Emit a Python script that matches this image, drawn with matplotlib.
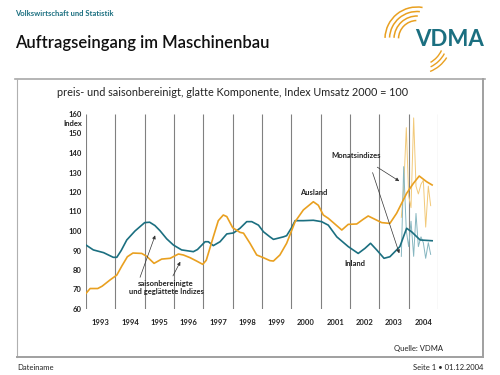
import numpy as np
import matplotlib
matplotlib.use("Agg")
import matplotlib.pyplot as plt
from matplotlib.patches import Arc

plt.rcParams['font.family'] = ['Lato', 'DejaVu Sans']

# smoothed series (glatte Komponente)
inland_x = [1993.0, 1993.25, 1993.6, 1993.93, 1994.05, 1994.2, 1994.39, 1994.67, 1995.0, 1995.17,
            1995.35, 1995.52, 1995.75, 1995.98, 1996.26, 1996.66, 1996.8, 1997.06, 1997.17, 1997.34,
            1997.57, 1997.8, 1998.03, 1998.25, 1998.48, 1998.65, 1998.88, 1999.05, 1999.27, 1999.39,
            1999.73, 1999.84, 2000.0, 2000.13, 2000.41, 2000.75, 2001.03, 2001.26, 2001.55, 2001.94,
            2002.28, 2002.51, 2002.7, 2002.91, 2003.16, 2003.36, 2003.7, 2003.93, 2004.1, 2004.39, 2004.8]
inland_y = [92.8, 90.3, 88.9, 86.5, 86.5, 90.0, 95.4, 100.0, 104.3, 104.5,
            102.8, 100.2, 96.0, 92.8, 90.3, 89.4, 90.5, 94.5, 94.5, 92.5,
            94.5, 98.5, 99.0, 101.4, 104.8, 104.8, 103.0, 99.6, 97.0, 95.7,
            97.0, 97.6, 101.5, 105.3, 105.3, 105.5, 104.8, 103.0, 97.0, 92.0,
            88.5, 91.1, 93.7, 90.3, 86.0, 86.8, 92.0, 101.4, 99.6, 95.4, 95.0]

ausland_x = [1993.0, 1993.14, 1993.4, 1993.55, 1993.82, 1994.05, 1994.22, 1994.41, 1994.6, 1994.9,
             1995.07, 1995.32, 1995.58, 1995.87, 1996.15, 1996.32, 1996.55, 1996.77, 1996.98, 1997.1,
             1997.34, 1997.51, 1997.68, 1997.8, 1998.0, 1998.25, 1998.37, 1998.59, 1998.82, 1999.05,
             1999.27, 1999.39, 1999.61, 1999.84, 2000.13, 2000.41, 2000.75, 2000.92, 2001.09, 2001.26,
             2001.43, 2001.72, 2001.94, 2002.23, 2002.45, 2002.62, 2002.85, 2003.08, 2003.36, 2003.59,
             2003.93, 2004.16, 2004.36, 2004.61, 2004.8]
ausland_y = [68.0, 70.5, 70.5, 71.7, 74.9, 77.4, 82.0, 86.8, 88.7, 88.5,
             87.0, 83.4, 85.6, 86.0, 88.2, 87.7, 86.3, 84.6, 82.9, 85.0,
             97.0, 105.3, 108.2, 107.4, 101.7, 99.3, 98.9, 93.7, 87.7, 86.3,
             84.8, 84.6, 87.7, 93.7, 104.8, 110.8, 115.0, 113.2, 108.2, 106.5,
             104.3, 100.5, 103.4, 103.6, 106.0, 107.7, 106.0, 104.3, 103.9, 109.1,
             119.3, 124.4, 128.2, 125.3, 123.6]

# monthly indices Oct 2003 - Oct 2004
monat_x = [2003.75, 2003.83, 2003.92, 2004.0, 2004.08, 2004.17, 2004.25,
           2004.33, 2004.42, 2004.5, 2004.58, 2004.67, 2004.75]
monat_ausland = [107, 122, 153, 118, 112, 158, 123, 119, 124, 126, 102, 123, 113]
monat_inland = [87, 133, 100, 92, 105, 87, 109, 92, 97, 94, 86, 94, 88]

jahre = list(range(1993, 2005))
yticks = [60, 70, 80, 90, 100, 110, 120, 130, 140, 150, 160]

teal = '#1b6f80'
orange = '#e9a020'
teal_l = '#86b6c0'
orange_l = '#f2c979'
txt = '#222222'

fig = plt.figure(figsize=(5, 3.75), dpi=100)

# decorations in pixel coordinates (y up)
deco = fig.add_axes([0, 0, 1, 1])
deco.set_xlim(0, 500)
deco.set_ylim(0, 375)
deco.axis('off')
deco.plot([15, 485], [375 - 79, 375 - 79], color='#a8a8a8', lw=1.2)
deco.plot([17, 17], [375 - 79, 375 - 357], color='#b0b0b0', lw=0.8)
deco.plot([17, 483], [375 - 357, 375 - 357], color='#a0a0a0', lw=1.4)
deco.plot([483, 483], [375 - 79, 375 - 357], color='#a0a0a0', lw=1.4)

# logo arcs
for r, t1, t2 in zip([32, 27.5, 23, 18.5], [80, 84, 88, 92], [178, 177, 177, 178]):
    deco.add_patch(Arc((417, 336), 2 * r, 2 * r, theta1=t1, theta2=t2, color=orange, lw=1.1))
for r, t1, t2 in zip([27, 31, 35], [-60, -64, -68], [-25, -28, -32]):
    deco.add_patch(Arc((417, 336), 2 * r, 2 * r, theta1=t1, theta2=t2, color=orange, lw=1.0))

fig.text(450 / 500, 1 - 40 / 375, 'VDMA', color=teal, fontsize=16, fontweight='bold',
         ha='center', va='center')
fig.text(15 / 500, 1 - 13 / 375, 'Volkswirtschaft und Statistik', color=teal, fontsize=5.5,
         fontweight='bold', ha='left', va='center')
fig.text(15 / 500, 1 - 43 / 375, 'Auftragseingang im Maschinenbau', color='#111111', fontsize=12,
         fontweight='semibold', ha='left', va='center')
fig.text(57 / 500, 1 - 93 / 375, 'preis- und saisonbereinigt, glatte Komponente, Index Umsatz 2000 = 100',
         color=txt, fontsize=7.8, ha='left', va='center')
fig.text(443 / 500, 1 - 348 / 375, 'Quelle: VDMA', color=txt, fontsize=5.5, ha='right', va='center')
fig.text(17 / 500, 1 - 367 / 375, 'Dateiname', color=txt, fontsize=5.5, ha='left', va='center')
fig.text(483 / 500, 1 - 367 / 375, 'Seite 1 \u2022 01.12.2004', color=txt, fontsize=5.5,
         ha='right', va='center')

# chart
ax = fig.add_axes([86 / 500, 1 - 309 / 375, 352 / 500, 195 / 375])
ax.set_xlim(1993, 2005)
ax.set_ylim(60, 160)
for s in ax.spines.values():
    s.set_visible(False)
ax.patch.set_alpha(0)

ax.vlines(jahre + [2005], 60, 160, color='#808080', lw=0.8, zorder=1)

ax.plot(monat_x, monat_ausland, color=orange_l, lw=0.7, zorder=2)
ax.plot(monat_x, monat_inland, color=teal_l, lw=0.7, zorder=2)
ax.plot(inland_x, inland_y, color=teal, lw=1.2, zorder=3)
ax.plot(ausland_x, ausland_y, color=orange, lw=1.2, zorder=3)

ax.set_yticks(yticks)
ax.set_yticklabels([str(v) for v in yticks], fontsize=5.5, fontweight='bold', color=txt)
ax.set_xticks([j + 0.5 for j in jahre])
ax.set_xticklabels([str(j) for j in jahre], fontsize=5.5, fontweight='bold', color=txt)
ax.tick_params(axis='both', length=0)
ax.tick_params(axis='y', pad=3)
ax.tick_params(axis='x', pad=7)
ax.text(-0.01, 155, 'Index', transform=ax.get_yaxis_transform(), fontsize=5.5, fontweight='bold',
        color=txt, ha='right', va='center')

# labels and arrows
lab = dict(fontsize=5.5, fontweight='bold', color=txt, ha='center', va='center')
ax.text(2000.77, 119.5, 'Ausland', **lab)
ax.text(2002.17, 83.1, 'Inland', **lab)
ax.text(2002.2, 138.5, 'Monatsindizes', **lab)
ax.text(1995.73, 71.0, 'saisonbereinigte\nund geglättete Indizes', linespacing=1.3, **lab)

arr = dict(arrowstyle='-|>', color='#333333', lw=0.5, mutation_scale=5)
ax.annotate('', xy=(1995.39, 99.1), xytext=(1994.81, 74.9), arrowprops=arr)
ax.annotate('', xy=(1996.26, 85.5), xytext=(1995.92, 75.7), arrowprops=arr)
ax.annotate('', xy=(2003.76, 124.8), xytext=(2002.85, 133.5), arrowprops=arr)
ax.annotate('', xy=(2003.71, 87.2), xytext=(2002.74, 131.3), arrowprops=arr)

fig.savefig('out.png', dpi=100)
